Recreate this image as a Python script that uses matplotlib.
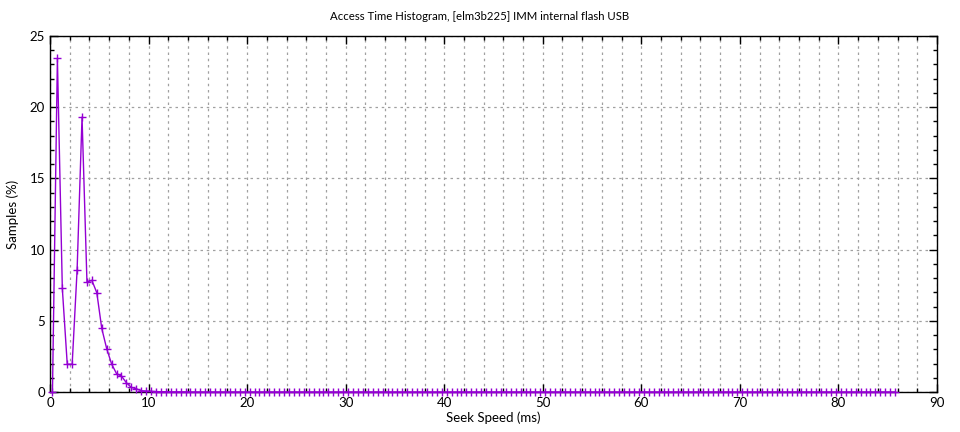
import matplotlib
matplotlib.use('Agg')
import matplotlib.pyplot as plt
from matplotlib.ticker import MultipleLocator

# seek speed bins (ms)
seek_ms = [
    0.25, 0.75, 1.25, 1.75, 2.25, 2.75, 3.25, 3.75, 4.25, 4.75,
    5.25, 5.75, 6.25, 6.75, 7.25, 7.75, 8.25, 8.75, 9.25, 9.75,
    10.25, 10.75, 11.25, 11.75, 12.25, 12.75, 13.25, 13.75, 14.25, 14.75,
    15.25, 15.75, 16.25, 16.75, 17.25, 17.75, 18.25, 18.75, 19.25, 19.75,
    20.25, 20.75, 21.25, 21.75, 22.25, 22.75, 23.25, 23.75, 24.25, 24.75,
    25.25, 25.75, 26.25, 26.75, 27.25, 27.75, 28.25, 28.75, 29.25, 29.75,
    30.25, 30.75, 31.25, 31.75, 32.25, 32.75, 33.25, 33.75, 34.25, 34.75,
    35.25, 35.75, 36.25, 36.75, 37.25, 37.75, 38.25, 38.75, 39.25, 39.75,
    40.25, 40.75, 41.25, 41.75, 42.25, 42.75, 43.25, 43.75, 44.25, 44.75,
    45.25, 45.75, 46.25, 46.75, 47.25, 47.75, 48.25, 48.75, 49.25, 49.75,
    50.25, 50.75, 51.25, 51.75, 52.25, 52.75, 53.25, 53.75, 54.25, 54.75,
    55.25, 55.75, 56.25, 56.75, 57.25, 57.75, 58.25, 58.75, 59.25, 59.75,
    60.25, 60.75, 61.25, 61.75, 62.25, 62.75, 63.25, 63.75, 64.25, 64.75,
    65.25, 65.75, 66.25, 66.75, 67.25, 67.75, 68.25, 68.75, 69.25, 69.75,
    70.25, 70.75, 71.25, 71.75, 72.25, 72.75, 73.25, 73.75, 74.25, 74.75,
    75.25, 75.75, 76.25, 76.75, 77.25, 77.75, 78.25, 78.75, 79.25, 79.75,
    80.25, 80.75, 81.25, 81.75, 82.25, 82.75, 83.25, 83.75, 84.25, 84.75,
    85.25, 85.75,
]

# samples (%)
samples = [
    0.0, 23.43, 7.28, 1.95, 1.95, 8.57, 19.3, 7.72, 7.84, 6.97,
    4.47, 3.05, 1.97, 1.29, 1.12, 0.65, 0.32, 0.23, 0.09, 0.07,
    0.05, 0.03, 0.02, 0.02, 0.01, 0.01, 0.01, 0.01, 0.0, 0.0,
    0.0, 0.0, 0.0, 0.0, 0.0, 0.0, 0.0, 0.0, 0.0, 0.0,
    0.0, 0.0, 0.0, 0.0, 0.0, 0.0, 0.0, 0.0, 0.0, 0.0,
    0.0, 0.0, 0.0, 0.0, 0.0, 0.0, 0.0, 0.0, 0.0, 0.0,
    0.0, 0.0, 0.0, 0.0, 0.0, 0.0, 0.0, 0.0, 0.0, 0.0,
    0.0, 0.0, 0.0, 0.0, 0.0, 0.0, 0.0, 0.0, 0.0, 0.0,
    0.0, 0.0, 0.0, 0.0, 0.0, 0.0, 0.0, 0.0, 0.0, 0.0,
    0.0, 0.0, 0.0, 0.0, 0.0, 0.0, 0.0, 0.0, 0.0, 0.0,
    0.0, 0.0, 0.0, 0.0, 0.0, 0.0, 0.0, 0.0, 0.0, 0.0,
    0.0, 0.0, 0.0, 0.0, 0.0, 0.0, 0.0, 0.0, 0.0, 0.0,
    0.0, 0.0, 0.0, 0.0, 0.0, 0.0, 0.0, 0.0, 0.0, 0.0,
    0.0, 0.0, 0.0, 0.0, 0.0, 0.0, 0.0, 0.0, 0.0, 0.0,
    0.0, 0.0, 0.0, 0.0, 0.0, 0.0, 0.0, 0.0, 0.0, 0.0,
    0.0, 0.0, 0.0, 0.0, 0.0, 0.0, 0.0, 0.0, 0.0, 0.0,
    0.0, 0.0, 0.0, 0.0, 0.0, 0.0, 0.0, 0.0, 0.0, 0.0,
    0.0, 0.0,
]

plt.rcParams['font.family'] = ['Lato', 'DejaVu Sans']
plt.rcParams['font.size'] = 9.5

fig = plt.figure(figsize=(9.6, 4.32), dpi=100)
ax = fig.add_axes([50 / 960, 1 - 392 / 432, 887 / 960, 356 / 432])

ax.plot(seek_ms, samples, color='#9400d3', linewidth=1.0, marker='+',
        markersize=6, markeredgewidth=1.0, clip_on=False, zorder=3)

ax.set_xlim(0, 90)
ax.set_ylim(0, 25)
ax.xaxis.set_major_locator(MultipleLocator(10))
ax.xaxis.set_minor_locator(MultipleLocator(2))
ax.yaxis.set_major_locator(MultipleLocator(5))
ax.yaxis.set_minor_locator(MultipleLocator(1))

ax.tick_params(which='both', direction='in', top=True, right=True,
               colors='black', labelsize=9.5)
ax.tick_params(which='major', length=6, width=1)
ax.tick_params(which='minor', length=3, width=1)

ax.grid(True, which='major', axis='both', color='#a0a0a0',
        linestyle=(0, (2, 3)), linewidth=0.9)
ax.grid(True, which='minor', axis='x', color='#a0a0a0',
        linestyle=(0, (2, 3)), linewidth=0.9)
ax.set_axisbelow(True)

for s in ax.spines.values():
    s.set_linewidth(1.0)

# title is centred on the whole image, not on the plot area
fig.text(0.5, 1 - 16 / 432, 'Access Time Histogram, [elm3b225] IMM internal flash USB',
         fontsize=8.2, ha='center', va='center')
ax.set_xlabel('Seek Speed (ms)', labelpad=2)
ax.set_ylabel('Samples (%)', labelpad=8)

fig.savefig('out.png', dpi=100)
